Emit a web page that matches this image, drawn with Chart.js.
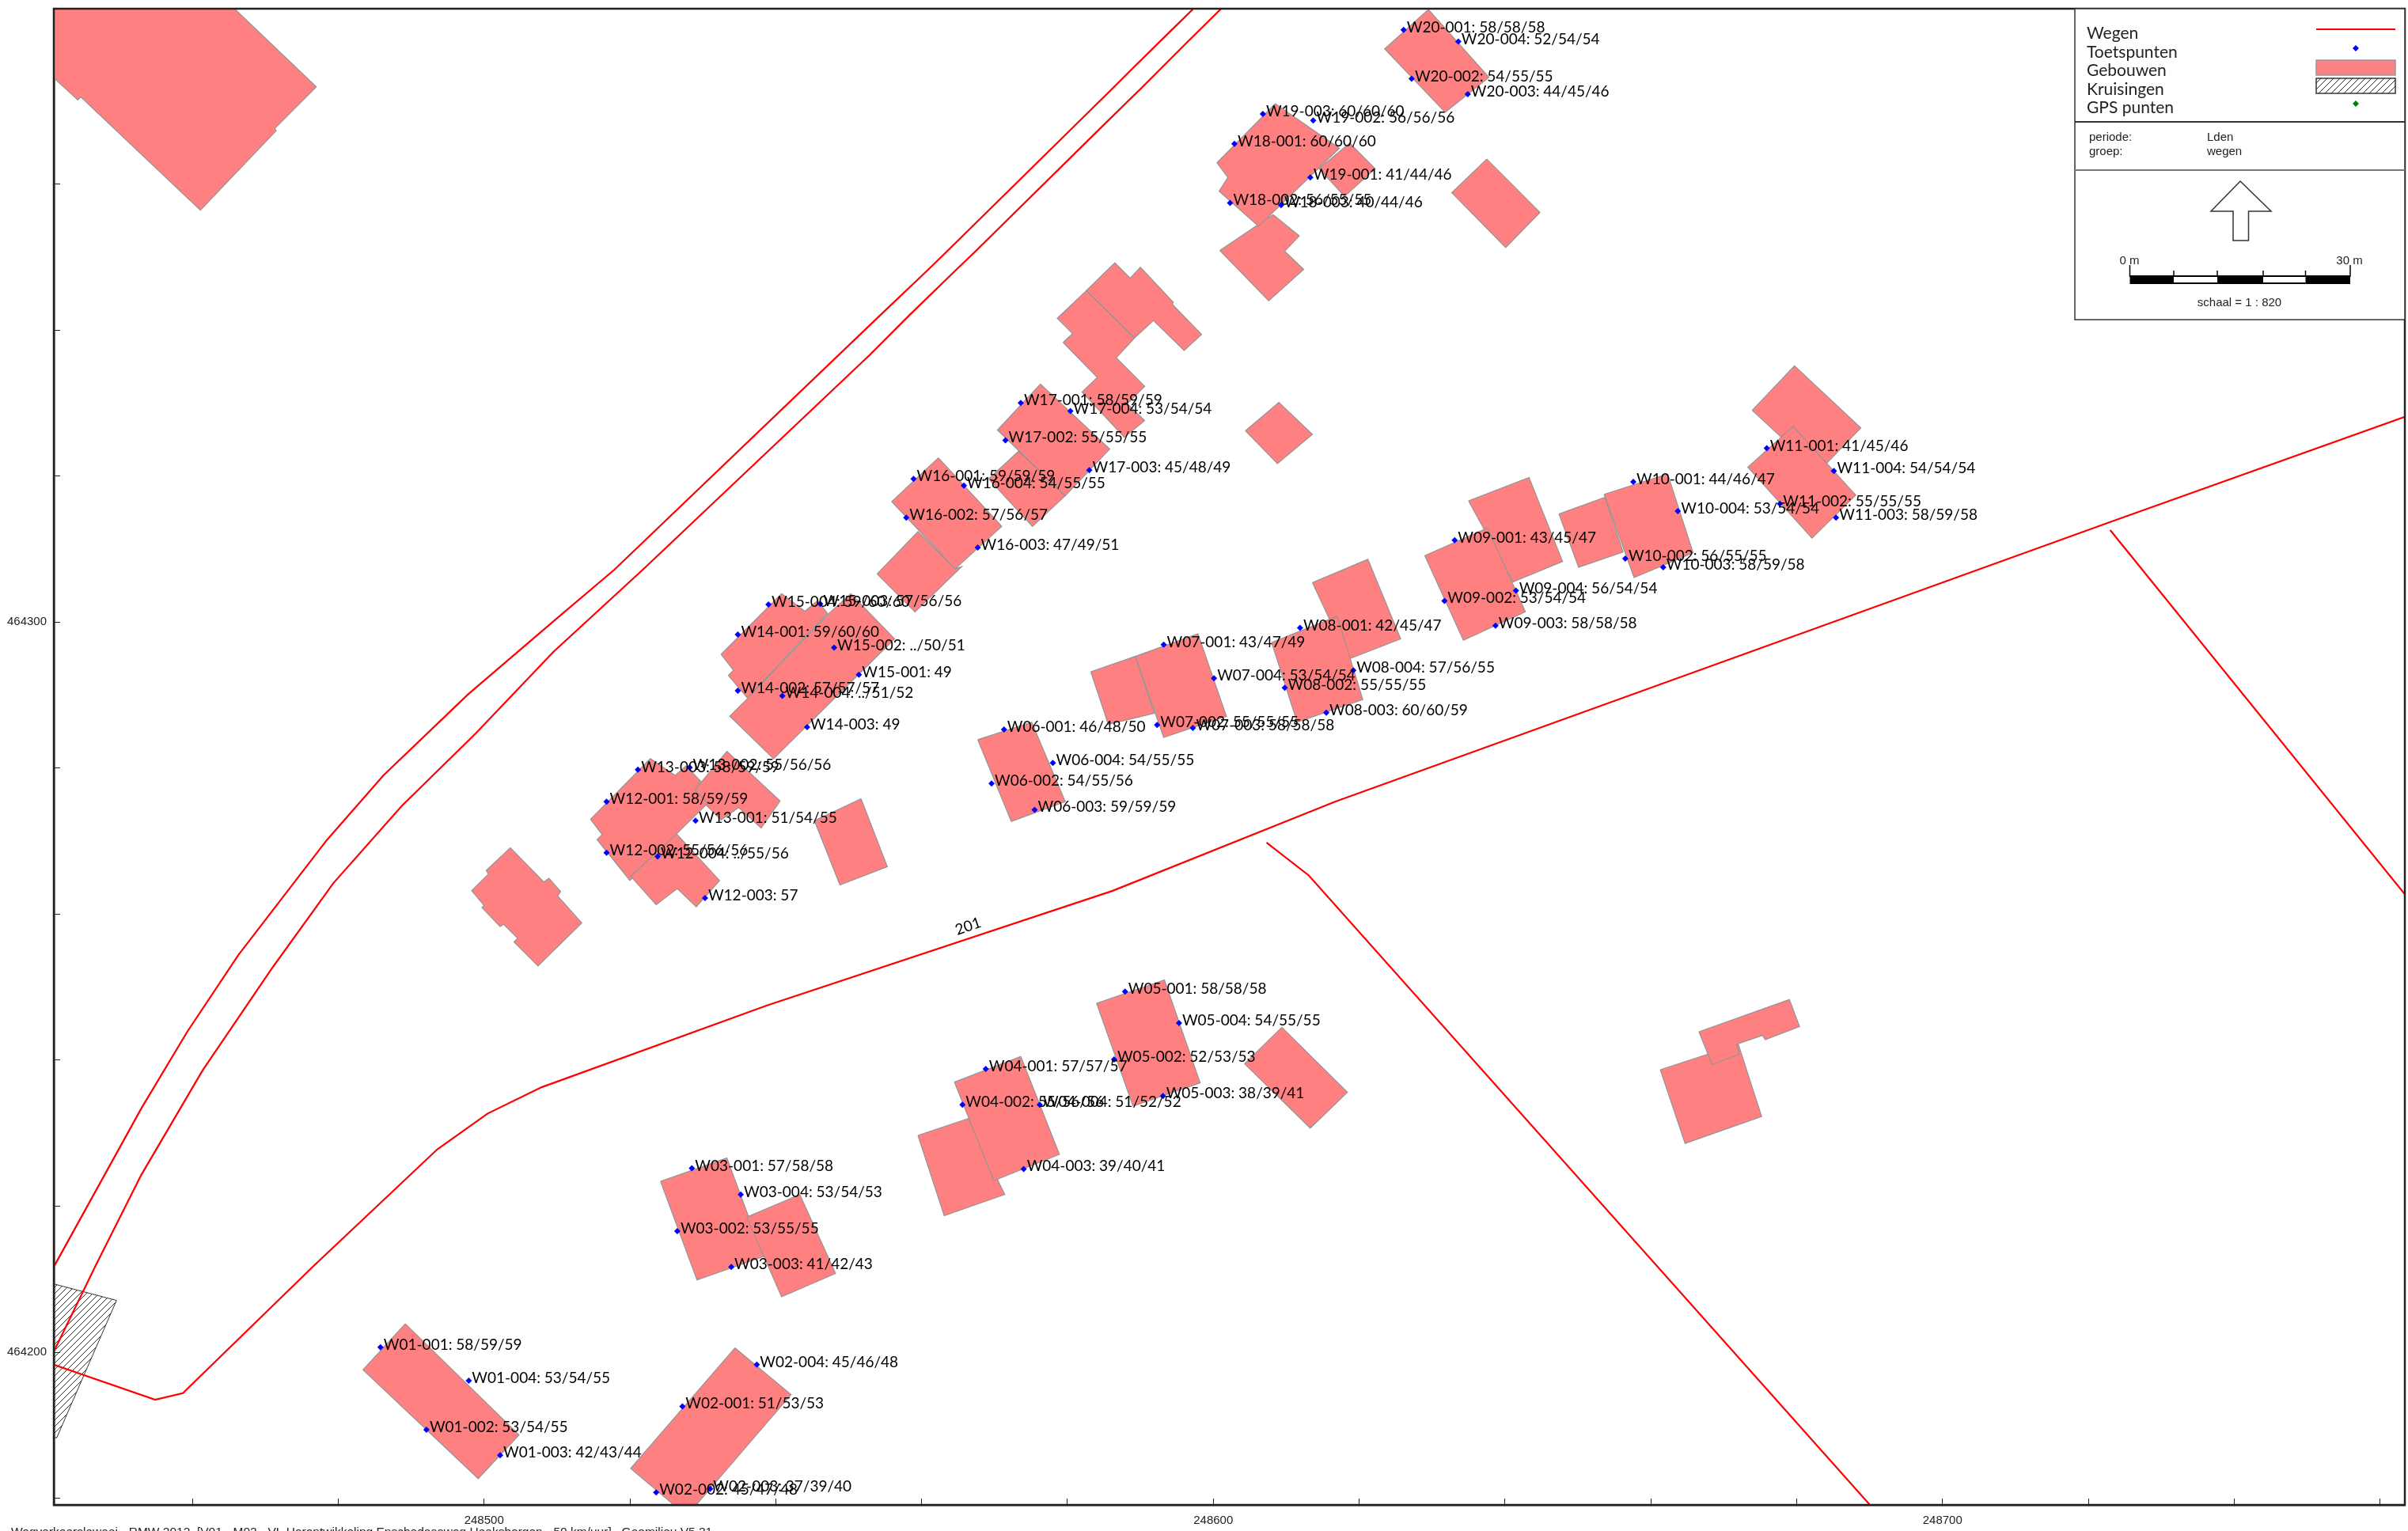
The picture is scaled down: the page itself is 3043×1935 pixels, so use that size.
<!DOCTYPE html>
<html>
<head>
<meta charset="utf-8">
<title>Wegverkeerslawaai</title>
<script src="https://cdn.jsdelivr.net/npm/chart.js@4/dist/chart.umd.min.js"></script>
<style>
  html, body { margin: 0; padding: 0; background: #fff; overflow: hidden; }
  canvas { display: block; }
</style>
</head>
<body>
<canvas id="map" width="3043" height="1935"></canvas>
<script>
// ========== DATA (metres, relative to the base easting / northing) ==========
const baseEast = 248000;
const baseNorth = 464000;

const xMin = 248441.0;
const xMax = 248763.4;
const yMin = 464179.1;
const yMax = 464384.0;
const xTicks = [248460, 248480, 248500, 248520, 248540, 248560, 248580, 248600, 248620, 248640, 248660, 248680, 248700, 248720, 248740, 248760];
const yTicks = [464180, 464200, 464220, 464240, 464260, 464280, 464300, 464320, 464340, 464360, 464380];

const pointLabels = [
  'W01-001: 58/59/59', 'W01-004: 53/54/55', 'W01-002: 53/54/55', 'W01-003: 42/43/44',
  'W02-004: 45/46/48', 'W02-001: 51/53/53', 'W02-002: 45/47/48', 'W02-003: 37/39/40',
  'W03-001: 57/58/58', 'W03-004: 53/54/53', 'W03-002: 53/55/55', 'W03-003: 41/42/43',
  'W04-001: 57/57/57', 'W04-002: 55/56/56', 'W04-004: 51/52/52', 'W04-003: 39/40/41',
  'W05-001: 58/58/58', 'W05-004: 54/55/55', 'W05-002: 52/53/53', 'W05-003: 38/39/41',
  'W06-001: 46/48/50', 'W06-004: 54/55/55', 'W06-002: 54/55/56', 'W06-003: 59/59/59',
  'W07-001: 43/47/49', 'W07-004: 53/54/54', 'W07-002: 55/55/55', 'W07-003: 58/58/58',
  'W08-001: 42/45/47', 'W08-004: 57/56/55', 'W08-002: 55/55/55', 'W08-003: 60/60/59',
  'W09-001: 43/45/47', 'W09-004: 56/54/54', 'W09-002: 53/54/54', 'W09-003: 58/58/58',
  'W10-001: 44/46/47', 'W10-004: 53/54/54', 'W10-002: 56/55/55', 'W10-003: 58/59/58',
  'W11-001: 41/45/46', 'W11-004: 54/54/54', 'W11-002: 55/55/55', 'W11-003: 58/59/58',
  'W12-001: 58/59/59', 'W12-002: 55/56/56', 'W12-004: ../55/56', 'W12-003: 57',
  'W13-003: 58/59/59', 'W13-002: 55/56/56', 'W13-001: 51/54/55',
  'W14-001: 59/60/60', 'W14-002: 57/57/57', 'W14-004: ../51/52', 'W14-003: 49',
  'W15-004: 59/60/60', 'W15-003: 57/56/56', 'W15-002: ../50/51', 'W15-001: 49',
  'W16-001: 59/59/59', 'W16-004: 54/55/55', 'W16-002: 57/56/57', 'W16-003: 47/49/51',
  'W17-001: 58/59/59', 'W17-004: 53/54/54', 'W17-002: 55/55/55', 'W17-003: 45/48/49',
  'W18-001: 60/60/60', 'W18-002: 56/55/55', 'W18-003: 40/44/46',
  'W19-003: 60/60/60', 'W19-002: 56/56/56', 'W19-001: 41/44/46',
  'W20-001: 58/58/58', 'W20-004: 52/54/54', 'W20-002: 54/55/55', 'W20-003: 44/45/46'
];
const pointEast = [
  485.8, 497.9, 492.1, 502.2,
  537.4, 527.2, 523.6, 531.0,
  528.5, 535.2, 526.5, 533.9,
  568.8, 565.6, 576.2, 574.0,
  587.9, 595.3, 586.4, 593.1,
  571.3, 578.0, 569.6, 575.5,
  593.2, 600.1, 592.3, 597.2,
  611.9, 619.2, 609.8, 615.5,
  633.1, 641.5, 631.7, 638.7,
  657.6, 663.7, 656.5, 661.7,
  675.9, 685.1, 677.7, 685.4,
  516.8, 516.8, 523.8, 530.3,
  521.1, 528.2, 529.0,
  534.8, 534.8, 540.9, 544.3,
  539.0, 546.1, 548.0, 551.4,
  558.9, 565.8, 557.9, 567.7,
  573.6, 580.4, 571.5, 583.0,
  602.9, 602.3, 609.3,
  606.8, 613.7, 613.3,
  626.1, 633.6, 627.2, 634.9
];
const pointNorth = [
  200.7, 196.1, 189.4, 185.9,
  198.3, 192.6, 180.8, 181.3,
  225.2, 221.6, 216.6, 211.7,
  238.8, 233.9, 233.9, 225.1,
  249.4, 245.1, 240.1, 235.1,
  285.3, 280.7, 277.9, 274.3,
  296.9, 292.3, 285.9, 285.5,
  299.2, 293.4, 291.0, 287.6,
  311.2, 304.3, 302.9, 299.5,
  319.2, 315.2, 308.7, 307.5,
  323.8, 320.7, 316.2, 314.3,
  275.4, 268.4, 267.9, 262.2,
  279.8, 280.1, 272.8,
  298.3, 290.6, 289.9, 285.6,
  302.4, 302.5, 296.5, 292.8,
  319.6, 318.7, 314.3, 310.2,
  330.0, 328.9, 324.9, 320.8,
  365.5, 357.4, 357.1,
  369.6, 368.7, 360.9,
  381.1, 379.5, 374.4, 372.3
];

const buildings = [
  [[439.6,375.8],[439.6,385.7],[464.0,385.7],[477.0,373.3],[471.3,367.6],[471.5,367.3],[461.1,356.4],[444.7,371.9],[444.3,371.5]],
  [[489.2,203.9],[504.8,188.7],[499.2,182.7],[483.4,197.6]],
  [[534.4,200.6],[542.1,194.2],[527.8,177.6],[520.1,184.1]],
  [[524.2,223.4],[533.3,226.6],[538.3,213.1],[529.2,209.9]],
  [[536.0,218.5],[543.3,221.6],[548.2,210.8],[540.8,207.6]],
  [[559.5,229.7],[566.4,232.0],[571.4,221.6],[563.1,218.7]],
  [[564.5,237.0],[573.6,240.5],[578.9,227.1],[569.9,223.5]],
  [[584.0,247.8],[593.3,251.0],[598.2,236.9],[589.0,233.7]],
  [[609.4,244.5],[618.4,235.6],[613.3,230.7],[604.3,239.5]],
  [[567.7,283.9],[575.1,286.3],[579.7,275.4],[572.3,272.7]],
  [[583.2,293.2],[589.3,295.3],[591.9,287.5],[585.6,286.0]],
  [[589.3,295.3],[597.9,298.4],[601.8,287.1],[593.2,284.2]],
  [[613.6,305.4],[621.2,308.6],[625.7,297.7],[618.5,294.9]],
  [[608.0,297.2],[617.0,300.8],[620.5,289.4],[611.5,286.3]],
  [[635.0,316.6],[643.3,319.8],[647.9,308.3],[641.1,305.5]],
  [[629.0,309.1],[637.6,312.9],[642.8,301.4],[634.3,297.5]],
  [[647.4,314.8],[653.7,317.1],[656.2,309.6],[650.1,307.5]],
  [[653.6,317.5],[662.3,320.3],[665.8,309.5],[657.7,306.1]],
  [[673.9,329.0],[679.7,335.1],[688.8,326.6],[683.0,320.6]],
  [[679.5,326.8],[688.1,317.4],[682.1,311.5],[673.3,321.2]],
  [[528.9,277.0],[533.3,282.3],[540.6,275.5],[538.0,271.8],[534.9,274.6],[532.5,272.9],[529.1,276.3]],
  [[514.6,273.0],[522.8,281.3],[526.2,279.0],[527.7,280.3],[529.7,278.2],[528.9,277.0],[530.7,275.2],[526.4,271.0],[520.0,264.6],[515.5,270.2],[516.2,270.9]],
  [[526.4,271.0],[532.3,264.6],[529.1,261.0],[526.5,263.5],[523.6,261.3],[520.1,265.2]],
  [[551.7,275.8],[555.3,266.5],[548.8,264.0],[545.3,272.8]],
  [[503.6,269.1],[508.2,264.4],[508.9,264.9],[510.5,263.1],[510.1,262.5],[513.4,258.8],[507.4,252.9],[504.1,256.2],[504.6,256.7],[502.7,258.6],[502.2,258.3],[499.7,260.9],[500.0,261.2],[498.3,263.2],[500.6,265.5],[500.3,266.0]],
  [[532.5,295.6],[540.8,303.9],[544.0,301.5],[545.7,302.9],[547.1,301.2],[536.1,289.6],[533.5,292.7],[534.2,293.4]],
  [[547.3,301.2],[550.3,303.9],[556.3,297.7],[539.7,281.3],[533.7,287.1],[536.1,289.5]],
  [[553.9,306.6],[559.5,312.4],[564.6,307.3],[565.5,307.6],[559.1,301.4]],
  [[562.3,322.5],[571.0,313.1],[564.6,307.3],[555.9,316.5]],
  [[579.4,338.3],[580.7,339.5],[578.6,341.6],[582.6,345.4],[589.2,338.9],[586.7,336.2],[590.6,332.3],[588.2,329.9],[590.6,327.6],[587.8,325.3],[582.0,331.5],[584.1,333.5]],
  [[582.6,345.4],[586.5,349.2],[588.6,347.1],[590.0,348.6],[594.5,343.8],[594.4,343.5],[598.4,339.4],[596.0,337.2],[591.8,341.3],[589.2,338.9]],
  [[573.3,323.4],[579.7,317.3],[575.2,313.1],[569.2,319.6]],
  [[576.3,332.6],[585.8,323.7],[579.7,317.3],[570.4,326.3]],
  [[604.4,326.2],[609.0,330.1],[613.6,325.7],[608.8,321.7]],
  [[614.5,362.1],[618.7,365.6],[622.2,362.1],[618.0,358.3]],
  [[600.9,350.9],[608.2,355.8],[611.8,352.9],[609.8,350.8],[612.4,348.3],[607.6,344.0]],
  [[600.5,362.9],[608.5,371.0],[617.3,364.9],[606.2,354.2],[600.8,359.0],[602.0,360.9]],
  [[637.5,363.4],[644.8,356.1],[640.1,351.3],[632.7,358.8]],
  [[629.5,383.9],[637.8,374.6],[631.8,369.8],[623.5,378.5]],
  [[661.3,238.7],[672.0,242.2],[675.2,232.3],[664.7,228.6]],
  [[666.6,243.9],[679.0,248.3],[680.4,244.6],[675.7,242.8],[675.3,243.4],[671.8,242.2],[672.1,240.8],[668.4,239.4]]
];

const crossing = [[440.1,209.6],[449.6,207.1],[441.4,188.3],[440.1,188.3]];

const roadNorthOuter = [[598.5,385.2],[594.1,380.9],[588.6,375.5],[585.5,372.4],[563.2,350.5],[560.2,347.6],[554.3,342.0],[517.9,307.2],[509.5,300.1],[497.8,290.1],[486.2,279.0],[478.4,270.1],[466.3,254.4],[459.3,243.9],[453.0,233.4],[441.0,211.7],[439.6,209.1]];
const roadNorthInner = [[602.3,385.2],[596.4,379.4],[590.2,373.2],[585.5,368.6],[567.1,350.5],[564.6,348.1],[558.3,342.0],[552.9,336.6],[521.8,307.2],[509.5,295.9],[498.9,284.8],[488.7,274.8],[479.3,264.2],[471.0,252.7],[461.4,238.6],[453.0,224.3],[446.7,211.8],[441.0,200.1],[440.1,198.3]];
const road201 = [[440.1,198.9],[441.0,198.3],[454.9,193.5],[458.7,194.4],[476.6,211.8],[493.6,227.8],[500.5,232.7],[507.9,236.3],[538.8,247.5],[586.2,263.2],[616.7,275.4],[723.0,313.7],[763.4,328.1]];
const roadSouth = [[607.3,269.8],[613.1,265.3],[692.1,176.8]];
const roadEast = [[723.0,312.6],[763.9,262.1]];
const roadLabel = { text: '201', east: 566.6, north: 257.7 };

const legendNames = ['Wegen', 'Toetspunten', 'Gebouwen', 'Kruisingen', 'GPS punten'];
const footerText = 'Wegverkeerslawaai - RMW 2012, [V01 - M02 - VL Herontwikkeling Enschedeseweg Haaksbergen - 50 km/uur] , Geomilieu V5.21';

// ========== STYLES ==========
const labelFont = '19px Lato';
const legendFont = '21px Lato';
const smallFont = '15px "Liberation Sans"';
const footerFont = '15.5px "Liberation Sans"';
const buildingFill = '#ff8080';
const buildingEdge = '#949494';
const roadColor = '#ff0000';

// hatch used for the crossing and its legend swatch
function makeHatch() {
  const c = document.createElement('canvas');
  c.width = 8;
  c.height = 8;
  const g = c.getContext('2d');
  g.strokeStyle = '#333';
  g.lineWidth = 1;
  g.beginPath();
  g.moveTo(-1, 9); g.lineTo(9, -1);
  g.moveTo(-1, 1); g.lineTo(1, -1);
  g.moveTo(7, 9); g.lineTo(9, 7);
  g.stroke();
  return g.createPattern(c, 'repeat');
}
const ctx = document.getElementById('map').getContext('2d');
const hatch = makeHatch();

const toXY = pts => pts.map(p => ({ x: p[0] + baseEast, y: p[1] + baseNorth }));
const closed = pts => toXY(pts.concat([pts[0]]));

// ========== DATASETS ==========
const datasets = [];

buildings.forEach((b, i) => {
  datasets.push({
    data: closed(b), showLine: true, fill: 'shape', tension: 0,
    backgroundColor: buildingFill, borderColor: buildingEdge, borderWidth: 1.2,
    pointRadius: 0, order: 1000 - i
  });
});

datasets.push({
  data: closed(crossing), showLine: true, fill: 'shape', tension: 0,
  backgroundColor: hatch, borderColor: '#333', borderWidth: 1,
  pointRadius: 0, order: 20
});

[roadNorthOuter, roadNorthInner, road201, roadSouth, roadEast].forEach(r => {
  datasets.push({
    data: toXY(r), showLine: true, fill: false, tension: 0,
    borderColor: roadColor, borderWidth: 2.2,
    pointRadius: 0, order: 10
  });
});

datasets.push({
  data: pointEast.map((x, i) => ({ x: x + baseEast, y: pointNorth[i] + baseNorth })),
  showLine: false,
  pointStyle: 'rectRot', pointRadius: 4, pointBorderWidth: 0,
  backgroundColor: '#0000ff', borderColor: '#0000ff', order: 1
});

// ========== LABELS, FRAME AND LEGEND PANEL ==========
const mapOverlay = {
  id: 'mapOverlay',
  afterDatasetsDraw(chart) {
    const c = chart.ctx;
    const { x, y } = chart.scales;
    const area = chart.chartArea;
    c.save();

    // test point labels
    c.font = labelFont;
    c.fillStyle = '#000';
    c.textAlign = 'left';
    c.textBaseline = 'alphabetic';
    pointLabels.forEach((t, i) => {
      const px = x.getPixelForValue(pointEast[i] + baseEast);
      const py = y.getPixelForValue(pointNorth[i] + baseNorth);
      c.fillText(t, px + 4, py + 3);
    });

    // road number
    c.save();
    c.translate(x.getPixelForValue(roadLabel.east + baseEast), y.getPixelForValue(roadLabel.north + baseNorth));
    c.rotate(-19 * Math.PI / 180);
    c.textAlign = 'center';
    c.fillText(roadLabel.text, 0, 0);
    c.restore();

    // frame
    c.strokeStyle = '#222';
    c.lineWidth = 2.5;
    c.strokeRect(area.left, area.top, area.right - area.left, area.bottom - area.top);

    // legend panel
    const L = 2622, R = area.right, T = area.top;
    c.fillStyle = '#fff';
    c.fillRect(L, T, R - L, 404 - T);
    c.strokeStyle = '#333';
    c.lineWidth = 1.5;
    c.strokeRect(L, T, R - L, 404 - T);
    c.lineWidth = 2;
    c.beginPath(); c.moveTo(L, 154); c.lineTo(R, 154); c.stroke();
    c.strokeStyle = '#777';
    c.beginPath(); c.moveTo(L, 215); c.lineTo(R, 215); c.stroke();

    c.font = legendFont;
    c.fillStyle = '#222';
    legendNames.forEach((t, i) => c.fillText(t, 2637, 49 + i * 23.5));

    c.strokeStyle = roadColor;
    c.lineWidth = 2;
    c.beginPath(); c.moveTo(2927, 37); c.lineTo(3027, 37); c.stroke();

    const diamond = (cx, cy, col) => {
      c.fillStyle = col;
      c.beginPath();
      c.moveTo(cx, cy - 4); c.lineTo(cx + 4, cy); c.lineTo(cx, cy + 4); c.lineTo(cx - 4, cy);
      c.closePath();
      c.fill();
    };
    diamond(2977, 61, '#0000ff');
    diamond(2977, 131, '#008000');

    c.fillStyle = buildingFill;
    c.fillRect(2927, 76, 100, 19);
    c.strokeStyle = '#999';
    c.lineWidth = 1.5;
    c.strokeRect(2927, 76, 100, 19);
    c.fillStyle = hatch;
    c.fillRect(2927, 99, 100, 19);
    c.strokeStyle = '#333';
    c.strokeRect(2927, 99, 100, 19);

    c.font = smallFont;
    c.fillStyle = '#222';
    c.fillText('periode:', 2640, 178);
    c.fillText('groep:', 2640, 196);
    c.fillText('Lden', 2789, 178);
    c.fillText('wegen', 2789, 196);

    // north arrow
    c.strokeStyle = '#333';
    c.lineWidth = 1.5;
    c.beginPath();
    c.moveTo(2831, 229); c.lineTo(2870, 267); c.lineTo(2841.5, 267); c.lineTo(2841.5, 304);
    c.lineTo(2822, 304); c.lineTo(2822, 267); c.lineTo(2794, 267);
    c.closePath();
    c.stroke();

    // scale bar
    const stops = [2691.5, 2747, 2802, 2860, 2913.5, 2970];
    c.fillStyle = '#000';
    c.strokeStyle = '#000';
    c.lineWidth = 1.5;
    for (let i = 0; i < 5; i++) {
      if (i % 2 === 0) c.fillRect(stops[i], 348, stops[i + 1] - stops[i], 11);
      else { c.fillRect(stops[i], 348, stops[i + 1] - stops[i], 2); c.fillRect(stops[i], 357, stops[i + 1] - stops[i], 2); }
    }
    stops.forEach((s, i) => {
      c.beginPath();
      c.moveTo(s, (i === 0 || i === 5) ? 335 : 342);
      c.lineTo(s, 350);
      c.stroke();
    });
    c.font = smallFont;
    c.fillStyle = '#222';
    c.textAlign = 'center';
    c.fillText('0 m', 2691, 334);
    c.fillText('30 m', 2969, 334);
    c.fillText('schaal = 1 : 820', 2830, 387);

    // footer, cut off by the page edge like the original
    c.font = footerFont;
    c.textAlign = 'left';
    c.fillText(footerText, 14, 1941);
    c.restore();
  }
};

// tick padding would otherwise push the plot area in from the canvas edges
function pinAxis(s, size) {
  if (s.isHorizontal()) s.height = size;
  else s.width = size;
  s.paddingTop = 0;
  s.paddingBottom = 0;
  s.paddingLeft = 0;
  s.paddingRight = 0;
}

// ========== CHART ==========
new Chart(ctx, {
  type: 'scatter',
  data: { datasets },
  plugins: [mapOverlay],
  options: {
    responsive: false,
    devicePixelRatio: 1,
    animation: false,
    events: [],
    layout: { padding: { top: 11, right: 2, left: 0, bottom: 0 } },
    plugins: { legend: { display: false }, tooltip: { enabled: false } },
    scales: {
      x: {
        type: 'linear', min: xMin, max: xMax,
        afterBuildTicks: s => { s.ticks = xTicks.map(v => ({ value: v })); },
        afterFit: s => pinAxis(s, 33),
        border: { color: '#222', width: 2.5 },
        grid: { drawOnChartArea: false, tickLength: -8, tickColor: '#222', tickWidth: 1 },
        ticks: {
          autoSkip: false, maxRotation: 0, padding: 19, color: '#222',
          font: { family: 'Liberation Sans', size: 15 },
          callback: v => (v % 100 === 0 ? String(v) : '')
        }
      },
      y: {
        type: 'linear', min: yMin, max: yMax,
        afterBuildTicks: s => { s.ticks = yTicks.map(v => ({ value: v })); },
        afterFit: s => pinAxis(s, 68),
        border: { color: '#222', width: 2.5 },
        grid: { drawOnChartArea: false, tickLength: -8, tickColor: '#222', tickWidth: 1 },
        ticks: {
          autoSkip: false, maxRotation: 0, padding: 17, color: '#222',
          font: { family: 'Liberation Sans', size: 15 },
          callback: v => (v % 100 === 0 ? String(v) : '')
        }
      }
    }
  }
});
</script>
</body>
</html>
